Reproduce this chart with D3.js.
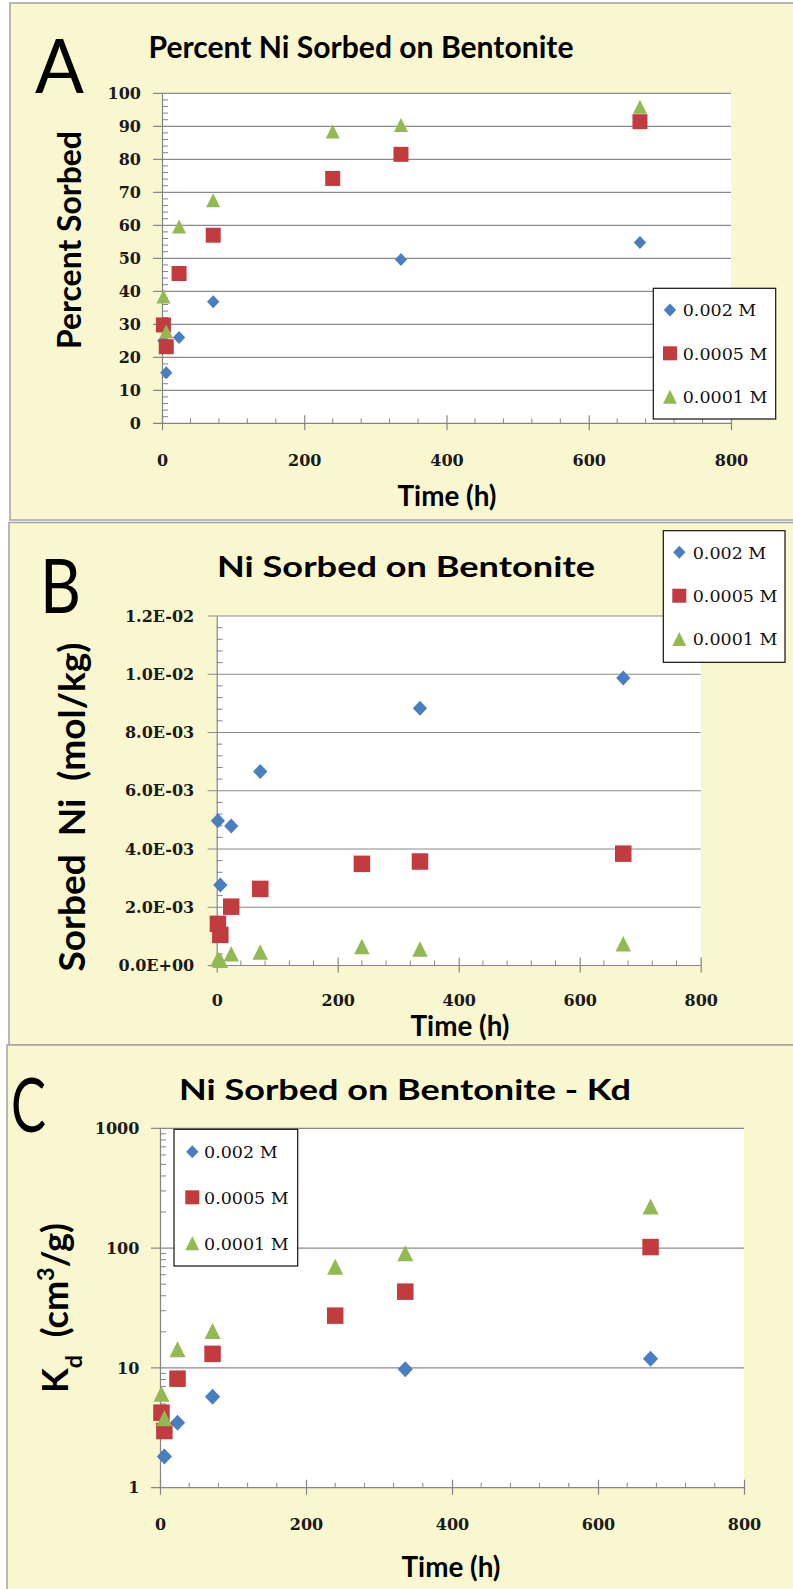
<!DOCTYPE html>
<html>
<head>
<meta charset="utf-8">
<script src="https://cdn.jsdelivr.net/npm/d3@7"></script>
<style>
  html, body { margin: 0; padding: 0; background: #ffffff; }
  svg { display: block; }
</style>
</head>
<body>
<svg id="fig" width="793" height="1589"></svg>
<script>
// ---------------- data ----------------
const seriesNames = ["0.002 M", "0.0005 M", "0.0001 M"];
const seriesColors = ["#4a7ebf", "#c23b3f", "#93b954"];

// sampling times (h)
const times = [2, 6, 24, 72, 240, 336, 672];

// axis ticks
const timeTicks = [0, 200, 400, 600, 800];
const percentTicks = [0, 10, 20, 30, 40, 50, 60, 70, 80, 90, 100];
const sorbedTicks = [0, 0.002, 0.004, 0.006, 0.008, 0.010, 0.012];
const kdTicks = [1, 10, 100, 1000];

// A: percent Ni sorbed (null = not sampled)
const pct002  = [25.0, 15.3, 26.0, 36.8, null, 49.6, 54.8];
const pct0005 = [29.8, 23.2, 45.4, 57.0, 74.2, 81.5, 91.4];
const pct0001 = [38.4, 27.8, 59.6, 67.6, 88.4, 90.4, 95.9];

// B: sorbed Ni (mol/kg)
const sorb002  = [4.97e-3, 2.76e-3, 4.79e-3, 6.66e-3, null, 8.83e-3, 9.87e-3];
const sorb0005 = [1.43e-3, 1.05e-3, 2.02e-3, 2.63e-3, 3.49e-3, 3.57e-3, 3.84e-3];
const sorb0001 = [0.22e-3, 0.18e-3, 0.40e-3, 0.46e-3, 0.65e-3, 0.57e-3, 0.75e-3];

// C: Kd (cm3/g)
const kd002  = [null, 1.82, 3.49, 5.75, null, 9.73, 11.9];
const kd0005 = [4.23, 2.97, 8.13, 13.1, 27.3, 43.3, 102];
const kd0001 = [6.09, 3.80, 14.3, 20.3, 70.0, 90.4, 222];

// ---------------- drawing helpers ----------------
const svg = d3.select("#fig");
const BG = "#f9f7cf";
const GRID = "#8a8a8a";
const AXIS = "#858585";
const TITLE_FONT = "Lato, 'Open Sans', sans-serif";
const NUM_FONT = "'DejaVu Serif', serif";

const symDiamond = { draw(ctx, size) { const r = Math.sqrt(size) / 2;
  ctx.moveTo(0, -r); ctx.lineTo(r * 0.95, 0); ctx.lineTo(0, r); ctx.lineTo(-r * 0.95, 0); ctx.closePath(); } };
const symSquare = { draw(ctx, size) { const r = Math.sqrt(size) / 2; ctx.rect(-r, -r, 2 * r, 2 * r); } };
const symTriangle = { draw(ctx, size) { const r = Math.sqrt(size) / 2;
  ctx.moveTo(0, -r); ctx.lineTo(r, r); ctx.lineTo(-r, r); ctx.closePath(); } };
const symbols = [symDiamond, symSquare, symTriangle];

// scale font so the text spans the given width
function fitWidth(sel, target) {
  const w = sel.node().getComputedTextLength();
  const fs = parseFloat(sel.attr("font-size"));
  sel.attr("font-size", fs * target / w);
}
// keep the font size, squeeze or stretch the glyphs to the given width
function squeeze(sel, target) {
  sel.attr("textLength", target).attr("lengthAdjust", "spacingAndGlyphs");
}

function sciLabel(v) {
  const [m, e] = v.toExponential(1).split("e");
  const n = Math.abs(parseInt(e, 10));
  return m + "E" + (e[0] === "-" ? "-" : "+") + String(n).padStart(2, "0");
}

function drawPanel(p) {
  const g = svg.append("g");
  // panel frame
  g.append("rect").attr("x", p.frame[0]).attr("y", p.frame[1])
    .attr("width", p.frame[2]).attr("height", p.frame[3])
    .attr("fill", BG).attr("stroke", "#a3a3a3").attr("stroke-width", 1.5);

  const { x0, x1, y0, y1 } = p.plot;
  const x = d3.scaleLinear().domain([0, 800]).range([x0, x1]);
  const y = (p.log ? d3.scaleLog() : d3.scaleLinear()).domain(p.yDomain).range([y1, y0]);

  // plot area
  g.append("rect").attr("x", x0).attr("y", y0).attr("width", x1 - x0).attr("height", y1 - y0)
    .attr("fill", "#ffffff");

  // horizontal gridlines with outside major tick stub
  g.append("g").selectAll("line").data(p.yTicks.slice(1)).join("line")
    .attr("x1", x0 - 9).attr("x2", x1)
    .attr("y1", d => y(d)).attr("y2", d => y(d))
    .attr("stroke", GRID).attr("stroke-width", 1.2);

  // minor y ticks (inside)
  g.append("g").selectAll("line").data(p.yMinor).join("line")
    .attr("x1", x0).attr("x2", x0 + 6)
    .attr("y1", d => y(d)).attr("y2", d => y(d))
    .attr("stroke", AXIS).attr("stroke-width", 1);

  // minor x ticks (inside)
  const xMinor = d3.range(40, 800, 40).filter(v => v % 200 !== 0);
  g.append("g").selectAll("line").data(xMinor).join("line")
    .attr("x1", d => x(d)).attr("x2", d => x(d))
    .attr("y1", y1 - 5).attr("y2", y1)
    .attr("stroke", AXIS).attr("stroke-width", 1);

  // y axis
  const yAxis = d3.axisLeft(y).tickValues(p.yTicks).tickSize(0).tickPadding(p.yGap).tickFormat(p.yFmt);
  const ya = g.append("g").attr("transform", `translate(${x0},0)`).call(yAxis);
  ya.select(".domain").attr("stroke", AXIS).attr("stroke-width", 1.2);
  ya.selectAll("text").attr("font-family", NUM_FONT).attr("font-weight", "bold")
    .attr("font-size", 16).attr("fill", "#1a1a1a");

  // x axis
  const xAxis = d3.axisBottom(x).tickValues(timeTicks).tickSizeOuter(0).tickSizeInner(0).tickFormat(d3.format("d"));
  const xa = g.append("g").attr("transform", `translate(0,${y1})`).call(xAxis);
  xa.select(".domain").attr("d", `M${x0 - 9},0H${x1}`).attr("stroke", AXIS).attr("stroke-width", 1.2);
  xa.selectAll(".tick line").attr("y1", -8).attr("y2", 7).attr("stroke", AXIS).attr("stroke-width", 1.2);
  xa.selectAll("text").attr("dy", null).attr("y", p.xLabelY)
    .attr("font-family", NUM_FONT).attr("font-weight", "bold")
    .attr("font-size", 16).attr("fill", "#1a1a1a");

  // markers
  p.series.forEach((vals, i) => {
    const pts = times.map((t, k) => [t, vals[k]]).filter(d => d[1] != null);
    g.append("g").selectAll("path").data(pts).join("path")
      .attr("transform", d => `translate(${x(d[0])},${y(d[1])})`)
      .attr("d", d3.symbol(symbols[i], p.markerSize[i] * p.markerSize[i]))
      .attr("fill", seriesColors[i]);
  });

  // legend
  const L = p.legend;
  const lg = g.append("g");
  lg.append("rect").attr("x", L.box[0]).attr("y", L.box[1]).attr("width", L.box[2]).attr("height", L.box[3])
    .attr("fill", "#ffffff").attr("stroke", "#111111").attr("stroke-width", 1.2);
  const legSizes = [13, 14, 14];
  seriesNames.forEach((name, i) => {
    lg.append("path").attr("transform", `translate(${L.mx},${L.rows[i]})`)
      .attr("d", d3.symbol(symbols[i], legSizes[i] * legSizes[i])).attr("fill", seriesColors[i]);
    lg.append("text").attr("x", L.tx).attr("y", L.rows[i]).attr("dy", "0.36em")
      .attr("font-family", NUM_FONT).attr("font-size", 17.5).attr("fill", "#111111").text(name);
  });

  // panel letter
  const lt = g.append("text").attr("x", p.letter.x).attr("y", p.letter.y)
    .attr("font-family", TITLE_FONT).attr("font-size", 76).attr("fill", "#000")
    .text(p.letter.text);
  squeeze(lt, p.letter.w);

  // title
  const t = g.append("text").attr("x", p.title.cx).attr("y", p.title.y).attr("text-anchor", "middle")
    .attr("font-family", TITLE_FONT).attr("font-weight", "bold").attr("font-size", p.title.size).attr("fill", "#000")
    .text(p.title.text);
  squeeze(t, p.title.w);

  // y axis title
  const yt = g.append("text")
    .attr("transform", `translate(${p.yTitle.bx},${p.yTitle.cy}) rotate(-90)`)
    .attr("text-anchor", "middle").attr("font-family", TITLE_FONT).attr("font-weight", "bold")
    .attr("font-size", 30).attr("fill", "#000").attr("xml:space", "preserve");
  p.yTitle.build(yt);
  fitWidth(yt, p.yTitle.w);

  // x axis title
  const xt = g.append("text").attr("x", p.xTitle.cx).attr("y", p.xTitle.y).attr("text-anchor", "middle")
    .attr("font-family", TITLE_FONT).attr("font-weight", "bold").attr("font-size", 24).attr("fill", "#000")
    .text("Time (h)");
  fitWidth(xt, 99);
}

// ---------------- panels ----------------
drawPanel({
  frame: [10, 3, 800, 517],
  plot: { x0: 162, x1: 731, y0: 93.3, y1: 423.3 },
  yDomain: [0, 100], yTicks: percentTicks, yGap: 21,
  yMinor: d3.range(2, 100, 2).filter(v => v % 10 !== 0),
  yFmt: d3.format("d"),
  xLabelY: 43,
  series: [pct002, pct0005, pct0001],
  markerSize: [13, 15, 14],
  legend: { box: [653.3, 288.3, 122.4, 130.7], mx: 670, tx: 682.7, rows: [310, 353.3, 396.7] },
  letter: { text: "A", x: 35, y: 93, w: 49 },
  title: { text: "Percent Ni Sorbed on Bentonite", cx: 361, y: 58, w: 425, size: 30.5 },
  yTitle: { bx: 81, cy: 240, w: 218, build: s => s.text("Percent Sorbed") },
  xTitle: { cx: 447, y: 506 }
});

drawPanel({
  frame: [9, 522.5, 800, 522.5],
  plot: { x0: 216.7, x1: 700.7, y0: 616, y1: 965.5 },
  yDomain: [0, 0.012], yTicks: sorbedTicks, yGap: 22.5,
  yMinor: d3.range(1, 30).filter(k => k % 5 !== 0).map(k => k * 0.0004),
  yFmt: sciLabel,
  xLabelY: 40.5,
  series: [sorb002, sorb0005, sorb0001],
  markerSize: [15, 16.5, 15.5],
  legend: { box: [663.3, 530.7, 121.7, 131.6], mx: 679.3, tx: 692.7, rows: [552.3, 595.7, 639] },
  letter: { text: "B", x: 40, y: 613, w: 41 },
  title: { text: "Ni Sorbed on Bentonite", cx: 406, y: 577, w: 378, size: 28 },
  yTitle: { bx: 85, cy: 807, w: 329, build: s => s.text("Sorbed  Ni  (mol/kg)") },
  xTitle: { cx: 460, y: 1036 }
});

drawPanel({
  frame: [7, 1045, 800, 560],
  plot: { x0: 160, x1: 744, y0: 1128.3, y1: 1487.7 },
  log: true,
  yDomain: [1, 1000], yTicks: kdTicks, yGap: 20.7,
  yMinor: [1, 10, 100].flatMap(b => d3.range(2, 10).map(m => b * m)),
  yFmt: d3.format("d"),
  xLabelY: 42.5,
  series: [kd002, kd0005, kd0001],
  markerSize: [16, 16.5, 16],
  legend: { box: [174, 1129.3, 123.7, 136.7], mx: 192.3, tx: 204, rows: [1151.7, 1197.3, 1243.3] },
  letter: { text: "C", x: 11, y: 1132, w: 35 },
  title: { text: "Ni Sorbed on Bentonite - Kd", cx: 405, y: 1100, w: 452, size: 28 },
  yTitle: { bx: 68, cy: 1308, w: 170, build: s => {
      s.append("tspan").text("K");
      s.append("tspan").attr("baseline-shift", "sub").attr("font-size", "65%").text("d");
      s.append("tspan").text("  (cm");
      s.append("tspan").attr("baseline-shift", "super").attr("font-size", "65%").text("3");
      s.append("tspan").text("/g)");
    } },
  xTitle: { cx: 451, y: 1577 }
});
</script>
</body>
</html>
